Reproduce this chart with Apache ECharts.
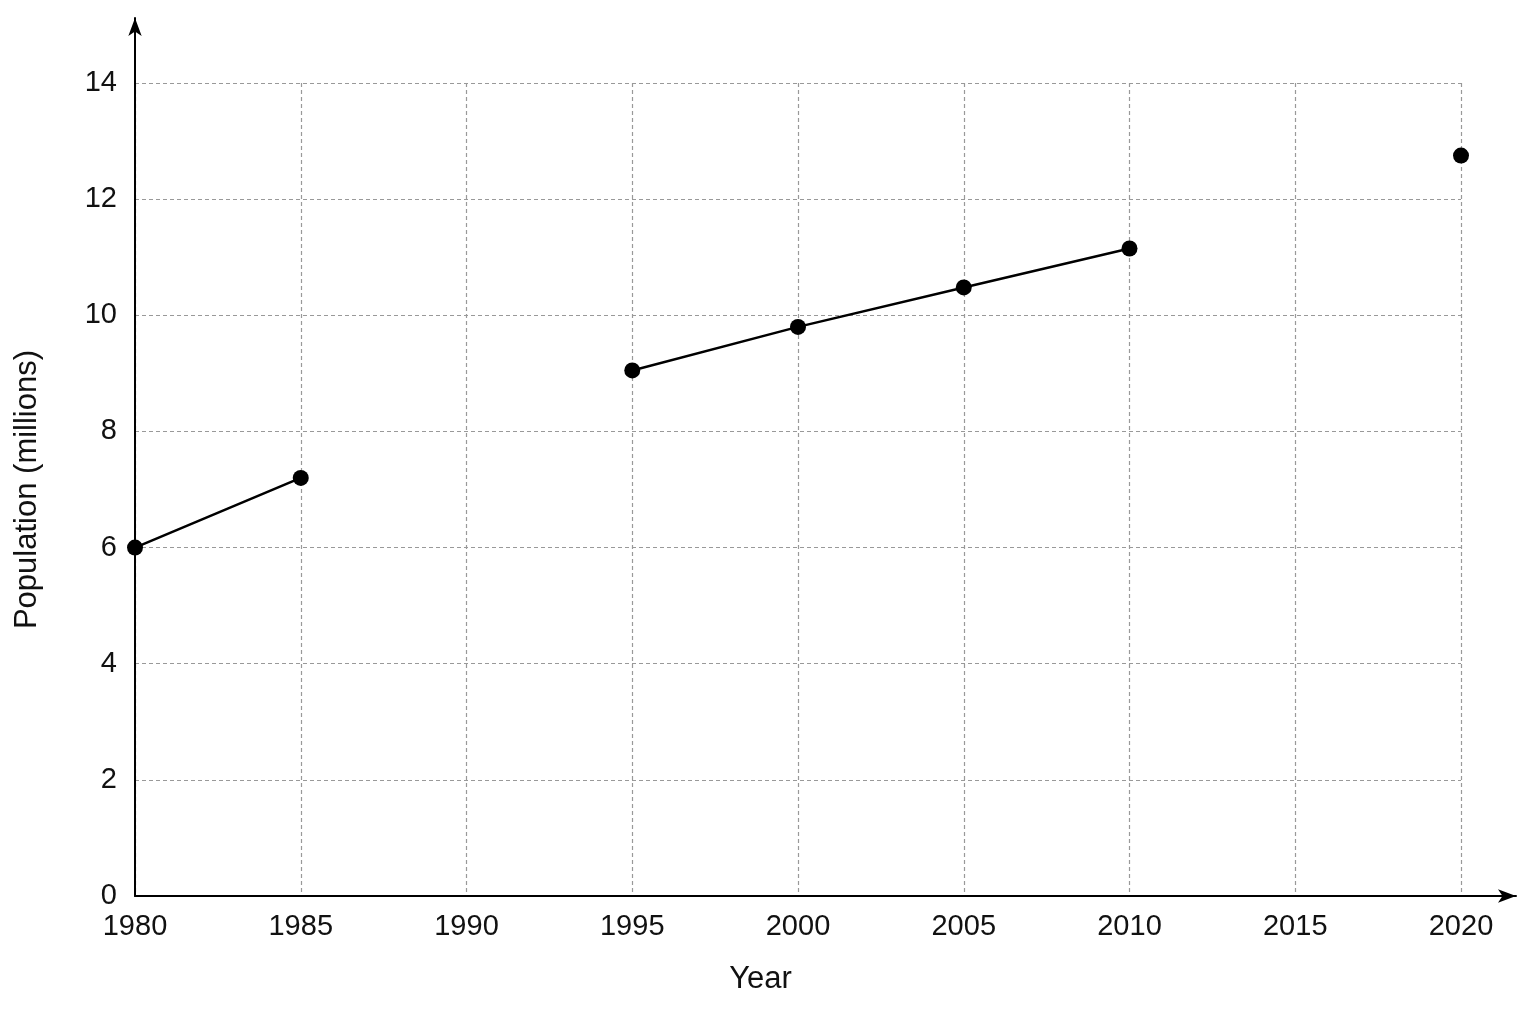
<!DOCTYPE html>
<html><head><meta charset="utf-8">
<script src="https://cdn.jsdelivr.net/npm/echarts@6/dist/echarts.min.js"></script>
<style>html,body{margin:0;background:#fff}#c{width:1536px;height:1024px}</style>
</head><body><div id="c"></div>
<script>
const years = ['1980','1985','1990','1995','2000','2005','2010','2015','2020'];
const population = [6.0, 7.2, null, 9.05, 9.8, 10.48, 11.15, null, 12.75];
const yTicks = {min:0, max:14, interval:2};
const font = "'Liberation Sans Narrow','Liberation Sans',sans-serif";
const chart = echarts.init(document.getElementById('c'));
const dashed = {show:true, lineStyle:{color:'#999', type:[4,3], width:1.2}};
chart.setOption({
  animation:false,
  grid:[{left:135, right:75, top:83, bottom:128},
        {left:135, right:20, top:18, bottom:128}],
  xAxis:[{type:'category', data:years, boundaryGap:false, gridIndex:0,
    axisLine:{show:false}, axisTick:{show:false}, splitLine:dashed,
    axisLabel:{fontSize:29, color:'#111', fontFamily:font, margin:16},
    name:'Year', nameLocation:'middle', nameGap:68,
    nameTextStyle:{fontSize:31, color:'#111', fontFamily:font, padding:[0,75,0,0]}},
   {type:'value', gridIndex:1, min:0, max:1, axisLabel:{show:false}, axisTick:{show:false}, splitLine:{show:false},
    axisLine:{show:true, lineStyle:{color:'#000', width:2}, symbol:['none','arrow'], symbolSize:[10,18]}}],
  yAxis:[{type:'value', gridIndex:0, min:yTicks.min, max:yTicks.max, interval:yTicks.interval,
    axisLine:{show:false}, axisTick:{show:false}, splitLine:dashed,
    axisLabel:{fontSize:29, color:'#111', fontFamily:font, margin:18},
    name:'Population (millions)', nameLocation:'middle', nameGap:92,
    nameTextStyle:{fontSize:31, color:'#111', fontFamily:font}},
   {type:'value', gridIndex:1, min:0, max:1, axisLabel:{show:false}, axisTick:{show:false}, splitLine:{show:false},
    axisLine:{show:true, lineStyle:{color:'#000', width:2}, symbol:['none','arrow'], symbolSize:[10,18]}}],
  series:[{type:'line', data:population, connectNulls:false, symbol:'circle', symbolSize:16,
    lineStyle:{color:'#000', width:2.5}, itemStyle:{color:'#000'}, z:5}]
});
</script></body></html>
